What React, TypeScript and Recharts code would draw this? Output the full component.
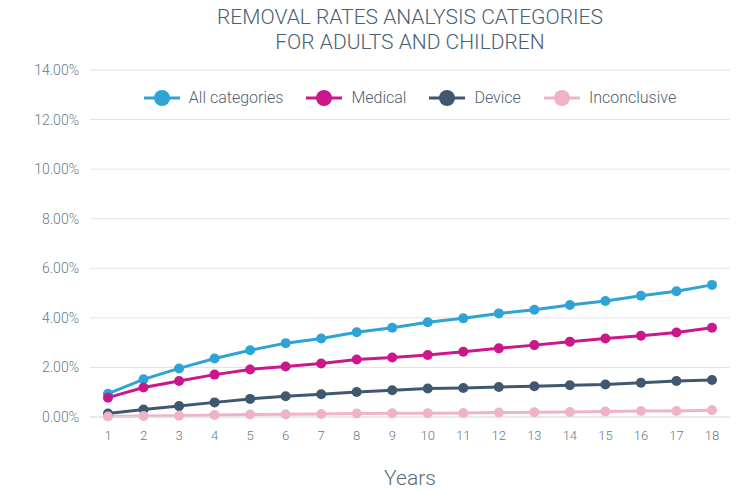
import { CartesianGrid, Line, LineChart, XAxis, YAxis } from "recharts";

const years = [1, 2, 3, 4, 5, 6, 7, 8, 9, 10, 11, 12, 13, 14, 15, 16, 17, 18];
const allCategories = [0.94, 1.52, 1.96, 2.36, 2.69, 2.98, 3.17, 3.42, 3.6, 3.82, 3.98, 4.18, 4.33, 4.52, 4.68, 4.89, 5.07, 5.33];
const medical = [0.78, 1.19, 1.45, 1.71, 1.92, 2.04, 2.16, 2.32, 2.4, 2.5, 2.63, 2.77, 2.9, 3.04, 3.17, 3.28, 3.41, 3.6];
const device = [0.14, 0.3, 0.44, 0.59, 0.73, 0.84, 0.92, 1.01, 1.08, 1.15, 1.17, 1.21, 1.24, 1.28, 1.31, 1.38, 1.45, 1.49];
const inconclusive = [0.02, 0.04, 0.05, 0.08, 0.1, 0.11, 0.12, 0.14, 0.15, 0.15, 0.16, 0.18, 0.19, 0.2, 0.22, 0.24, 0.24, 0.27];
const yTicks = [0, 2, 4, 6, 8, 10, 12, 14];

const series = [
  { key: "all", name: "All categories", color: "#2ea3d6" },
  { key: "medical", name: "Medical", color: "#cc168b" },
  { key: "device", name: "Device", color: "#3f5870" },
  { key: "inconclusive", name: "Inconclusive", color: "#f0b2cb" },
];

const data = years.map((year, i) => ({
  year,
  all: allCategories[i],
  medical: medical[i],
  device: device[i],
  inconclusive: inconclusive[i],
}));

const FONT = "Roboto, 'Liberation Sans', sans-serif";
const TEXT = "#66798a";

export default function App() {
  return (
    <div
      style={{
        position: "absolute",
        top: 0,
        left: 0,
        width: 748,
        height: 491,
        background: "#fff",
        fontFamily: FONT,
      }}
    >
      {/* Title */}
      <div
        style={{
          position: "absolute",
          top: 5,
          left: 90,
          width: 640,
          textAlign: "center",
          fontSize: 21,
          fontWeight: 300,
          lineHeight: "25px",
          color: "#4a6073",
        }}
      >
        REMOVAL RATES ANALYSIS CATEGORIES
        <br />
        FOR ADULTS AND CHILDREN
      </div>

      <LineChart
        width={748}
        height={491}
        data={data}
        margin={{ top: 70, right: 18, bottom: 0, left: 0 }}
      >
        <CartesianGrid vertical={false} stroke="#dde3e8" />
        <XAxis
          dataKey="year"
          ticks={years}
          interval={0}
          padding={{ left: 18, right: 18 }}
          axisLine={{ stroke: "#dde3e8" }}
          tickLine={false}
          tickMargin={8}
          height={74}
          tick={{ fill: TEXT, fontSize: 13, fontFamily: FONT, fontWeight: 300 }}
        />
        <YAxis
          width={90}
          domain={[0, 14]}
          ticks={yTicks}
          interval={0}
          axisLine={false}
          tickLine={false}
          tickMargin={5}
          tickFormatter={(v: number) => `${v.toFixed(2)}%`}
          tick={{ fill: TEXT, fontSize: 14, fontFamily: FONT, fontWeight: 300 }}
        />
        {series.map((s) => (
          <Line
            key={s.key}
            type="linear"
            dataKey={s.key}
            name={s.name}
            stroke={s.color}
            strokeWidth={3}
            dot={{ r: 5, fill: s.color, stroke: s.color, strokeWidth: 0 }}
            isAnimationActive={false}
          />
        ))}
      </LineChart>

      {/* Legend */}
      <div
        style={{
          position: "absolute",
          top: 88,
          left: 90,
          width: 640,
          display: "flex",
          justifyContent: "center",
          alignItems: "center",
          gap: 23,
          fontSize: 16,
          fontWeight: 300,
          color: "#4f6172",
        }}
      >
        {series.map((s) => (
          <div key={s.key} style={{ display: "flex", alignItems: "center", gap: 9 }}>
            <svg width={36} height={18}>
              <line x1={0} y1={9} x2={36} y2={9} stroke={s.color} strokeWidth={3} />
              <circle cx={18} cy={9} r={8} fill={s.color} />
            </svg>
            <span>{s.name}</span>
          </div>
        ))}
      </div>

      {/* X-axis title */}
      <div
        style={{
          position: "absolute",
          top: 466,
          left: 90,
          width: 640,
          textAlign: "center",
          fontSize: 21,
          fontWeight: 300,
          color: "#5a6b7a",
        }}
      >
        Years
      </div>
    </div>
  );
}
